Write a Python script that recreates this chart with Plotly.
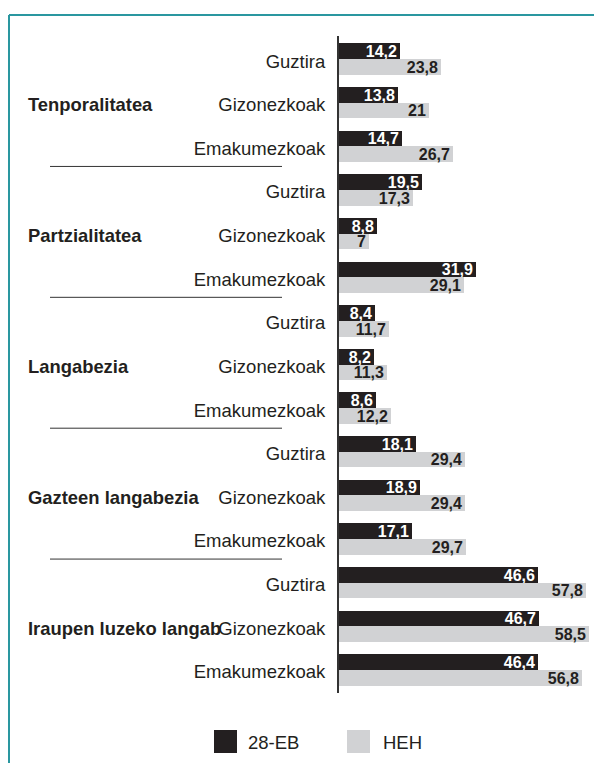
import plotly.graph_objects as go

groups = ["Tenporalitatea", "Partzialitatea", "Langabezia", "Gazteen langabezia", "Iraupen luzeko langab"]
subcats = ["Guztira", "Gizonezkoak", "Emakumezkoak"]
eb28 = [14.2, 13.8, 14.7, 19.5, 8.8, 31.9, 8.4, 8.2, 8.6, 18.1, 18.9, 17.1, 46.6, 46.7, 46.4]
heh = [23.8, 21, 26.7, 17.3, 7, 29.1, 11.7, 11.3, 12.2, 29.4, 29.4, 29.7, 57.8, 58.5, 56.8]
series_names = ["28-EB", "HEH"]

BLACK = "#231f20"
GREY = "#d1d2d4"
TEAL = "#2a97a0"
TXT = "#231f20"
FONT = "Liberation Sans, Arial, Helvetica, sans-serif"

n = len(eb28)
rows = list(range(n))
row_labels = [subcats[i % 3] for i in rows]

def fmt(v):
    return f"{v:g}".replace(".", ",")

# page body has an 8px margin; work in figure coordinates
OFF = 8
W, H = 594, 755
L, R, T, B = 339 - OFF, 602 - OFF, 36 - OFF, 693 - OFF
pw, ph = R - L, B - T

def px(x):  # screen x -> paper
    return (x - OFF - L) / pw

def py(y):  # screen y -> paper
    return (B - (y - OFF)) / ph

fig = go.Figure()
bw = 0.36
fig.add_trace(go.Bar(
    x=eb28, y=[r - 0.18 for r in rows], orientation="h", width=bw,
    marker=dict(color=BLACK, line=dict(width=0)), name=series_names[0],
    text=[fmt(v) for v in eb28], textposition="inside", insidetextanchor="end",
    textangle=0, constraintext="none",
    textfont=dict(family=FONT, size=16, color="white", weight="bold"),
    showlegend=False, hoverinfo="skip",
))
fig.add_trace(go.Bar(
    x=heh, y=[r + 0.18 for r in rows], orientation="h", width=bw,
    marker=dict(color=GREY, line=dict(width=0)), name=series_names[1],
    text=[fmt(v) for v in heh], textposition="inside", insidetextanchor="end",
    textangle=0, constraintext="none",
    textfont=dict(family=FONT, size=16, color=TXT, weight="bold"),
    showlegend=False, hoverinfo="skip",
))

shapes = []
# group separators
for g in range(1, len(groups)):
    yb = g * 3 - 0.54
    shapes.append(dict(type="line", xref="paper", yref="y", x0=px(50), x1=px(282),
                       y0=yb, y1=yb, line=dict(color="#333333", width=1)))
# frame (teal)
shapes.append(dict(type="line", xref="paper", yref="paper", x0=px(9), x1=px(603),
                   y0=py(15), y1=py(15), line=dict(color=TEAL, width=2)))
shapes.append(dict(type="line", xref="paper", yref="paper", x0=px(9), x1=px(9),
                   y0=py(15), y1=py(764), line=dict(color=TEAL, width=2)))
# legend swatches
shapes.append(dict(type="rect", xref="paper", yref="paper", x0=px(214), x1=px(237),
                   y0=py(730), y1=py(753), fillcolor=BLACK, line=dict(width=0)))
shapes.append(dict(type="rect", xref="paper", yref="paper", x0=px(347), x1=px(370),
                   y0=py(730), y1=py(753), fillcolor=GREY, line=dict(width=0)))

annotations = []
for gi, g in enumerate(groups):
    annotations.append(dict(text=g, xref="paper", yref="y", x=px(26), y=gi * 3 + 1,
                            xanchor="left", yanchor="middle", showarrow=False, yshift=-2,
                            font=dict(family=FONT, size=18.4, color=TXT, weight="bold")))
annotations.append(dict(text=series_names[0], xref="paper", yref="paper", x=px(246), y=py(742),
                        xanchor="left", yanchor="middle", showarrow=False,
                        font=dict(family=FONT, size=18.5, color=TXT)))
annotations.append(dict(text=series_names[1], xref="paper", yref="paper", x=px(381), y=py(742),
                        xanchor="left", yanchor="middle", showarrow=False,
                        font=dict(family=FONT, size=18.5, color=TXT)))

fig.update_layout(
    width=W, height=H,
    margin=dict(l=L, r=W - R, t=T, b=H - B, autoexpand=False),
    paper_bgcolor="white", plot_bgcolor="white",
    barmode="overlay", bargap=0,
    shapes=shapes, annotations=annotations,
    xaxis=dict(range=[0, pw / 4.28], visible=False, fixedrange=True),
    yaxis=dict(range=[14.53, -0.53], tickmode="array", tickvals=rows, ticktext=row_labels,
               showline=True, linecolor="#333333", linewidth=2, showgrid=False, zeroline=False,
               ticks="outside", ticklen=8, tickcolor="rgba(0,0,0,0)", ticklabelshift=-2,
               tickfont=dict(family=FONT, size=18.5, color=TXT),
               fixedrange=True),
    font=dict(family=FONT),
)

fig.write_html("out.html")
